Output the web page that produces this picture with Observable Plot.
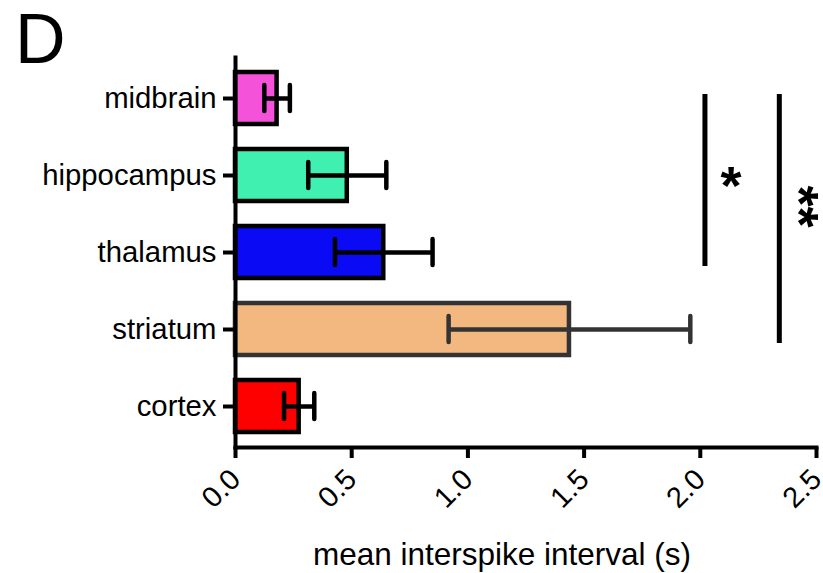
<!DOCTYPE html>
<html><head><meta charset="utf-8">
<script src="https://cdn.jsdelivr.net/npm/d3@7"></script>
<script src="https://cdn.jsdelivr.net/npm/@observablehq/plot@0.6"></script>
<style>
body{margin:0;background:#fff;}
#wrap{position:relative;width:823px;height:573px;}
#panel{position:absolute;left:15px;top:4px;font:70px/1 "Liberation Sans",Arial,sans-serif;color:#000;}
</style>
</head><body><div id="wrap"><div id="chart"></div><div id="panel">D</div></div>
<script>
const regions = ["midbrain", "hippocampus", "thalamus", "striatum", "cortex"];
const means = [0.179, 0.481, 0.638, 1.437, 0.274];
const errors = [0.055, 0.168, 0.21, 0.52, 0.065];
const fills = ["#f352d9", "#3ff0b0", "#0a0af5", "#f2b880", "#ff0000"];
const outlines = ["#000000", "#000000", "#000000", "#333333", "#000000"];
const xTicks = [0, 0.5, 1.0, 1.5, 2.0, 2.5];
const xLabel = "mean interspike interval (s)";
// significance brackets
const sigFrom = ["midbrain", "midbrain"];
const sigTo = ["thalamus", "striatum"];
const sigX = [2.02, 2.34];
const sigLabel = ["*", "**"];

const data = regions.map((r, i) => ({region: r, mean: means[i], err: errors[i], fill: fills[i], stroke: outlines[i]}));
const sig = sigX.map((x, i) => ({x, from: sigFrom[i], to: sigTo[i], label: sigLabel[i]}));

const chart = Plot.plot({
  width: 823,
  height: 573,
  marginLeft: 235,
  marginRight: 7,
  marginTop: 57,
  marginBottom: 126,
  style: {fontFamily: '"Liberation Sans", Arial, sans-serif', color: "#000", background: "#fff"},
  x: {domain: [0, 2.5]},
  y: {domain: regions, paddingInner: 0.33, paddingOuter: 0.18},
  color: {type: "identity"},
  marks: [
    Plot.barX(data, {x: "mean", y: "region", fill: d => d.fill, stroke: d => d.stroke, strokeWidth: 4.5}),
    Plot.ruleY(data, {y: "region", x1: d => d.mean - d.err, x2: d => d.mean + d.err, stroke: d => d.stroke, strokeWidth: 4.5}),
    Plot.tickX(data, {x: d => d.mean - d.err, y: "region", stroke: d => d.stroke, strokeWidth: 4.5, strokeLinecap: "round", insetTop: 13, insetBottom: 13}),
    Plot.tickX(data, {x: d => d.mean + d.err, y: "region", stroke: d => d.stroke, strokeWidth: 4.5, strokeLinecap: "round", insetTop: 13, insetBottom: 13}),
    Plot.ruleX(sig, {x: "x", y1: "from", y2: "to", stroke: "#000", strokeWidth: 5, insetTop: 22, insetBottom: 12}),
    Plot.text(sig.slice(0, 1), {x: "x", y: "from", text: "label", dx: 26, dy: 88, fontSize: 54, fontWeight: "bold", lineAnchor: "middle"}),
    Plot.text(sig.slice(1, 2), {x: "x", y: "from", text: "label", dx: 40, dy: 108, fontSize: 54, fontWeight: "bold", rotate: 90, lineAnchor: "top"}),
    Plot.frame({anchor: "left", strokeWidth: 4, strokeLinecap: "square"}),
    Plot.frame({anchor: "bottom", strokeWidth: 4, strokeLinecap: "square"}),
    Plot.axisY({tickSize: 12, tickPadding: 7, fontSize: 29.3, label: null, strokeWidth: 4}),
    Plot.axisX({ticks: xTicks, tickFormat: d3.format(".1f"), tickRotate: -45, tickSize: 11, tickPadding: 16, fontSize: 29, label: null, strokeWidth: 4}),
    Plot.text([xLabel], {frameAnchor: "bottom", dx: -24, dy: 117, fontSize: 31.5, lineAnchor: "bottom"})
  ]
});
document.getElementById("chart").appendChild(chart);
</script>
</body></html>
